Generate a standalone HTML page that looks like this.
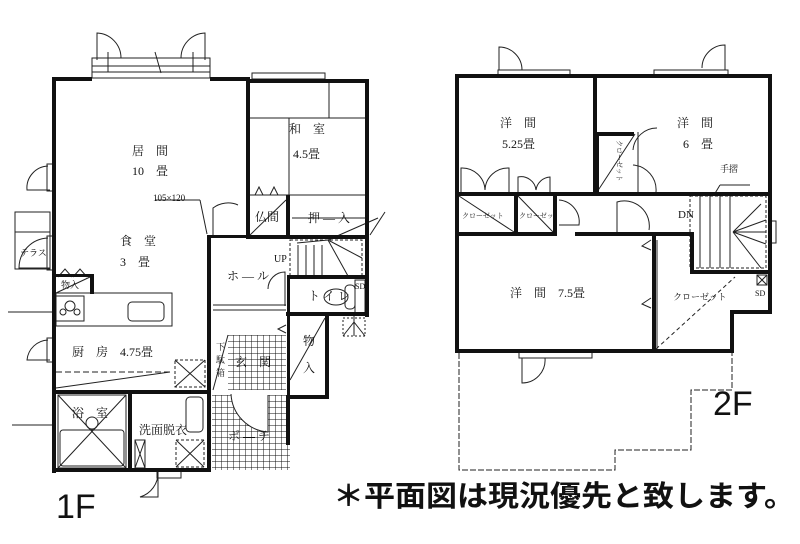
<!DOCTYPE html>
<html><head><meta charset="utf-8"><style>
html,body{margin:0;padding:0;background:#fff;width:800px;height:544px;overflow:hidden}
svg{display:block}
text{font-family:"Liberation Serif","Noto Serif CJK SC","Noto Sans CJK JP",serif;fill:#111}
.s{font-family:"Liberation Sans","Noto Sans CJK JP",sans-serif}
</style></head><body>
<svg width="800" height="544" viewBox="0 0 800 544" xmlns="http://www.w3.org/2000/svg">
<defs>
<pattern id="g" width="6" height="6" patternUnits="userSpaceOnUse"><path d="M6 0V6M0 6H6" stroke="#111" stroke-width="1" fill="none"/></pattern>
</defs>
<g fill="none" stroke="#222" stroke-width="1">
<rect x="92" y="58" width="118" height="20"/><line x1="92" y1="66" x2="210" y2="66"/><line x1="92" y1="72" x2="210" y2="72"/>
<path d="M97 60V33A25 25 0 0 1 121 58"/><path d="M205 60V33A25 25 0 0 0 181 58"/>
<line x1="108" y1="52" x2="108" y2="72"/><line x1="193" y1="52" x2="193" y2="72"/><line x1="155" y1="52" x2="161" y2="73"/>
<rect x="252" y="73" width="73" height="6"/>
<line x1="250" y1="118" x2="368" y2="118"/><line x1="329" y1="80" x2="329" y2="118"/>
<line x1="250" y1="195" x2="368" y2="195"/><line x1="289" y1="118" x2="289" y2="195"/>
<path d="M255 195l4-8 4 8M270 195l4-8 4 8"/>
<line x1="250" y1="235" x2="286" y2="200"/>
<line x1="292" y1="218" x2="365" y2="218"/>
<rect x="290" y="240" width="72" height="36" stroke-dasharray="3 2"/>
<line x1="298" y1="245" x2="298" y2="275"/><line x1="306" y1="245" x2="306" y2="275"/><line x1="314" y1="245" x2="314" y2="275"/><line x1="322" y1="245" x2="322" y2="275"/>
<line x1="328" y1="240" x2="348" y2="276"/><line x1="328" y1="240" x2="362" y2="258"/><line x1="297" y1="243" x2="328" y2="240"/>
<line x1="328" y1="240" x2="378" y2="218"/><line x1="370" y1="235" x2="385" y2="212"/>
<ellipse cx="336" cy="297" rx="12" ry="8"/><rect x="345" y="285" width="10" height="24" rx="4"/>
<rect x="355" y="280" width="10" height="33"/>
<rect x="343" y="318" width="22" height="18" stroke-dasharray="2 2"/><path d="M343 336l11-14 11 14M354 316v20"/>
<path d="M268 289A17 17 0 0 1 285 272V306"/>
<path d="M213 235V208A25 25 0 0 1 238 205"/>
<line x1="155" y1="200" x2="200" y2="200"/><line x1="200" y1="200" x2="207" y2="234"/>
<path d="M50 190H27A22 22 0 0 1 48 166"/><rect x="47" y="164" width="8" height="27"/>
<path d="M50 268H19A30 30 0 0 1 48 238"/><rect x="47" y="236" width="8" height="34"/>
<path d="M50 360H27A22 22 0 0 1 48 340"/><rect x="47" y="338" width="8" height="24"/>
<rect x="15" y="212" width="35" height="57"/><line x1="15" y1="232" x2="50" y2="232"/>
<line x1="8" y1="312" x2="53" y2="312"/><line x1="12" y1="425" x2="53" y2="425"/>
<rect x="56" y="293" width="116" height="33"/><rect x="56" y="296" width="28" height="25"/>
<rect x="128" y="302" width="36" height="19" rx="4"/>
<circle cx="70" cy="306" r="5"/><circle cx="63" cy="312" r="3"/><circle cx="77" cy="312" r="3"/>
<path d="M58 277l7-8 7 8M73 277l7-8 7 8M56 293L90 277"/>
<line x1="56" y1="372" x2="170" y2="372" stroke-dasharray="6 3"/><line x1="56" y1="388" x2="170" y2="372"/>
<rect x="175" y="360" width="30" height="27" stroke-dasharray="3 2"/><path d="M175 360l30 27M205 360l-30 27"/>
<rect x="58" y="395" width="68" height="73"/><rect x="60" y="430" width="64" height="36" rx="3"/>
<path d="M58 395l68 73M126 395l-68 73"/><circle cx="92" cy="423" r="6"/>
<rect x="186" y="397" width="17" height="35" rx="4"/>
<rect x="176" y="440" width="28" height="27" stroke-dasharray="3 2"/><path d="M176 440l28 27M204 440l-28 27"/>
<rect x="135" y="440" width="10" height="28"/><path d="M135 440l10 28M145 440l-10 28"/>
<path d="M158 472v25h-18A25 25 0 0 0 158 472"/><rect x="157" y="470" width="24" height="8"/>
<rect x="228" y="335" width="58" height="55" fill="url(#g)" stroke="none"/>
<rect x="212" y="395" width="74" height="75" fill="url(#g)" stroke="none"/>
<rect x="286" y="445" width="4" height="25" fill="url(#g)" stroke="none"/>
<path d="M231 394A40 40 0 0 0 268 432V395" fill="#fff"/>
<line x1="213" y1="305" x2="286" y2="305"/><line x1="213" y1="310" x2="286" y2="310"/>
<line x1="228" y1="335" x2="213" y2="390"/>
<path d="M286 325l-8 4 8 4"/>
<path d="M290 380l35-62"/>
<rect x="498" y="70" width="72" height="7"/><rect x="654" y="70" width="74" height="7"/>
<path d="M499 70V47A23 23 0 0 1 522 70"/><path d="M725 70V45A23 23 0 0 0 702 68"/>
<rect x="519" y="351" width="73" height="7"/><path d="M522 358V383A23 23 0 0 0 545 358"/>
<path d="M461 192V168A23 23 0 0 1 485 190A23 23 0 0 1 509 168V192"/>
<path d="M518 192V177A15 15 0 0 1 536 190A15 15 0 0 1 550 177V192"/>
<path d="M459 196l55 36M518 196l35 36"/>
<path d="M559 225h20A22 22 0 0 0 559 200"/>
<path d="M617 232V202A25 25 0 0 1 649 230"/>
<path d="M633 150A24 24 0 0 1 657 128M633 165A25 25 0 0 1 656 192M638 132V192"/>
<path d="M597 192l38-58"/>
<rect x="690" y="196" width="76" height="72" stroke-dasharray="3 2"/>
<line x1="700" y1="196" x2="700" y2="268"/><line x1="710" y1="196" x2="710" y2="268"/><line x1="720" y1="196" x2="720" y2="268"/><line x1="730" y1="196" x2="730" y2="268"/>
<path d="M733 232l28-28M733 232l33-12M733 232h33M733 232l33 12M733 232l28 36"/>
<rect x="770" y="221" width="6" height="22"/>
<line x1="720" y1="185" x2="750" y2="185"/><line x1="720" y1="185" x2="714" y2="195"/>
<line x1="657" y1="240" x2="657" y2="350"/><path d="M651 240l-9 6 9 4M651 298l-9 6 9 4"/>
<line x1="656" y1="349" x2="735" y2="277" stroke-dasharray="4 3"/>
<rect x="757" y="275" width="10" height="10"/><path d="M757 275l10 10M767 275l-10 10"/>
<path d="M459 353V470H615V450H691V390H732V353" stroke-dasharray="6 2"/>
</g>
<g fill="#111">
<rect x="52" y="77" width="4" height="396"/>
<rect x="52" y="77" width="40" height="4"/><rect x="210" y="77" width="40" height="4"/>
<rect x="246" y="79" width="123" height="4"/>
<rect x="365" y="79" width="4" height="238"/>
<rect x="246" y="79" width="4" height="159"/>
<rect x="246" y="235" width="123" height="4"/>
<rect x="286" y="195" width="4" height="44"/>
<rect x="207" y="235" width="4" height="158"/>
<rect x="207" y="235" width="40" height="3"/>
<rect x="287" y="275" width="82" height="4"/>
<rect x="287" y="275" width="3" height="124"/>
<rect x="286" y="312" width="83" height="4"/>
<rect x="325" y="314" width="4" height="85"/>
<rect x="286" y="395" width="43" height="4"/>
<rect x="286" y="395" width="4" height="50"/>
<rect x="90" y="277" width="4" height="17"/>
<rect x="56" y="274" width="38" height="3"/>
<rect x="52" y="390" width="158" height="4"/>
<rect x="128" y="393" width="4" height="77"/>
<rect x="52" y="468" width="159" height="4"/>
<rect x="207" y="390" width="4" height="82"/>
<rect x="455" y="74" width="4" height="279"/>
<rect x="455" y="74" width="317" height="4"/>
<rect x="768" y="74" width="4" height="239"/>
<rect x="730" y="310" width="42" height="4"/>
<rect x="730" y="310" width="4" height="43"/>
<rect x="455" y="349" width="279" height="4"/>
<rect x="593" y="74" width="4" height="121"/>
<rect x="455" y="192" width="317" height="4"/>
<rect x="455" y="232" width="100" height="4"/><rect x="575" y="232" width="119" height="4"/>
<rect x="690" y="232" width="4" height="42"/>
<rect x="690" y="270" width="82" height="4"/>
<rect x="514" y="192" width="4" height="44"/>
<rect x="553" y="192" width="4" height="44"/>
<rect x="652" y="234" width="4" height="118"/>
<rect x="595" y="132" width="39" height="4"/>
<rect x="595" y="132" width="4" height="62"/>
</g>
<g font-size="12">
<text x="132" y="155">居　間</text><text x="132" y="175">10　畳</text>
<text x="153" y="201" font-size="9">105×120</text>
<text x="120" y="245">食　堂</text><text x="120" y="266">3　畳</text>
<text x="289" y="133">和　室</text><text x="293" y="158">4.5畳</text>
<text x="255" y="221">仏間</text><text x="308" y="222">押 ― 入</text>
<text x="274" y="262" font-size="10">UP</text>
<text x="227" y="280">ホ ― ル</text>
<text x="308" y="300">ト イ レ</text>
<text x="355" y="289" font-size="8">SD</text>
<text x="20" y="256" font-size="9">テラス</text>
<text x="61" y="288" font-size="9">物入</text>
<text x="72" y="356">厨　房　4.75畳</text>
<text x="216" y="350" font-size="9">下</text><text x="216" y="363" font-size="9">駄</text><text x="216" y="376" font-size="9">箱</text>
<text x="235" y="366">玄　関</text>
<text x="303" y="345">物</text><text x="303" y="372">入</text>
<text x="72" y="417">浴　室</text>
<text x="139" y="434">洗面脱衣</text>
<text x="228" y="440">ポ ― チ</text>
</g>
<g font-size="12">
<text x="500" y="127">洋　間</text><text x="502" y="148">5.25畳</text>
<text x="677" y="127">洋　間</text><text x="683" y="148">6　畳</text>
<text x="720" y="172" font-size="9">手摺</text>
<text x="462" y="218" font-size="7">クローゼット</text>
<text x="519" y="218" font-size="7">クローゼッ</text>
<text x="678" y="218" font-size="11">DN</text>
<text x="510" y="297">洋　間　7.5畳</text>
<text x="673" y="300" font-size="9">クローゼット</text>
<text x="755" y="296" font-size="8">SD</text>
<text transform="translate(617,140) rotate(90)" font-size="7">クローゼット</text>
</g>
<text class="s" x="56" y="518" font-size="34">1F</text>
<text class="s" x="713" y="415" font-size="34">2F</text>
<text class="s" x="333" y="506" font-size="29" font-weight="bold" textLength="462" lengthAdjust="spacingAndGlyphs">＊平面図は現況優先と致します。</text>
</svg>
</body></html>
